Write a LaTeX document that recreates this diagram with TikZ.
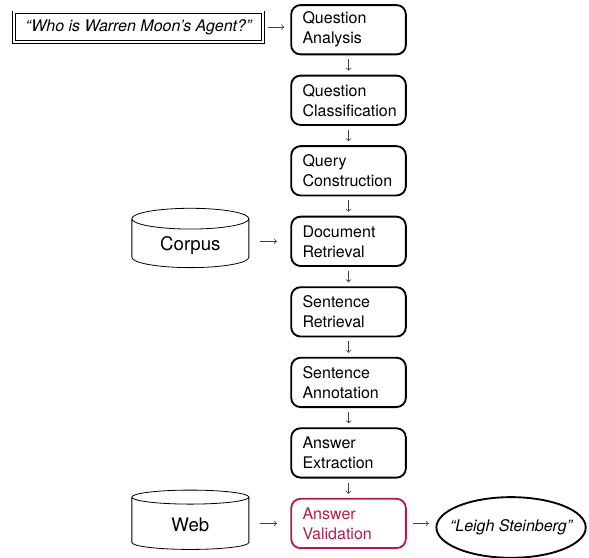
\documentclass[tikz,border=0pt]{standalone}
\usepackage{fontspec}
\setmainfont{TeX Gyre Heros}
\usetikzlibrary{positioning,shapes.geometric}
\definecolor{valred}{RGB}{181,27,72}

\begin{document}
\begin{tikzpicture}[
	font=\fontsize{12}{15}\selectfont,
	stepbox/.style={draw, line width=1.4pt, rounded corners=7pt, text width=69pt, inner xsep=8.5pt, inner ysep=2pt, align=left, minimum height=37pt},
	querybox/.style={draw, double, double distance=1.6pt, line width=0.6pt, minimum width=187pt, minimum height=22pt, font=\fontsize{12}{15}\selectfont\itshape},
	store/.style={draw, line width=0.6pt, cylinder, shape border rotate=90, aspect=0.3, minimum width=87.75pt, minimum height=44.5pt, font=\fontsize{14}{16}\selectfont},
	answer/.style={draw, ellipse, line width=1.4pt, minimum width=112pt, minimum height=45.5pt, inner xsep=-9pt, inner ysep=0pt, font=\fontsize{12}{15}\selectfont\itshape},
	flow/.style={->, gray!50!black, line width=0.6pt, shorten <=3pt, shorten >=3pt}
]
\useasboundingbox (0,0) rectangle (441.75pt,-417.75pt);

\node[stepbox] (qa) at (261.4pt,-22.3pt) {Question\\Analysis};
\node[stepbox, below=14.5pt of qa] (qc) {Question\\Classification};
\node[stepbox, below=14.5pt of qc] (qb) {Query\\Construction};
\node[stepbox, below=14.5pt of qb] (dr) {Document\\Retrieval};
\node[stepbox, below=14.5pt of dr] (sr) {Sentence\\Retrieval};
\node[stepbox, below=14.5pt of sr] (sa) {Sentence\\Annotation};
\node[stepbox, below=14.5pt of sa] (ae) {Answer\\Extraction};
\node[stepbox, below=14.5pt of ae, draw=valred, text=valred] (av) {Answer\\Validation};

\node[querybox, left=20pt of qa, yshift=2pt] (question) {“Who is Warren Moon’s Agent?”};
\node[store, left=30.75pt of dr, yshift=-3pt] (corpus) {Corpus};
\node[store, left=30.75pt of av, yshift=-1pt] (web) {Web};
\node[answer, right=21.5pt of av, yshift=-3pt] (ans) {“Leigh Steinberg”};

\foreach \a/\b in {qa/qc, qc/qb, qb/dr, dr/sr, sr/sa, sa/ae, ae/av}
	\draw[flow] (\a) -- (\b);
\draw[flow, shorten >=4.5pt] (question.east) -- (question.east -| qa.west);
\draw[flow, shorten <=8pt, shorten >=10pt] (dr.west -| corpus.east) -- (dr.west);
\draw[flow, shorten <=8pt, shorten >=10pt] (av.west -| web.east) -- (av.west);
\draw[flow, shorten <=5pt, shorten >=5pt] (av.east) -- (av.east -| ans.west);
\end{tikzpicture}
\end{document}
